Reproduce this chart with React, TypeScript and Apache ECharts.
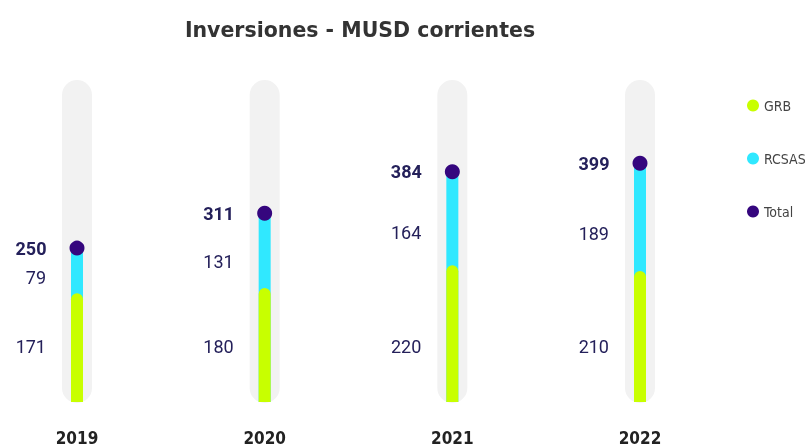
import React, { useEffect, useRef } from "react";
import * as echarts from "echarts";

const years = ["2019", "2020", "2021", "2022"];
const grb = [171, 180, 220, 210];
const rcsas = [79, 131, 164, 189];
const totals = [250, 311, 384, 399];

const Y_MIN = -20;
const Y_MAX = 545;

const GREEN = "#c8ff00";
const CYAN = "#30e8ff";
const PURPLE = "#35067e";
const GRAY = "#f2f2f2";
const NUM_COLOR = "#24205a";
const NUM_FONT = "Roboto, 'DejaVu Sans', sans-serif";
const COND_FONT = "'DejaVu Sans Condensed', 'Liberation Sans Narrow', 'DejaVu Sans', sans-serif";

export default function App() {
  const ref = useRef<HTMLDivElement>(null);
  useEffect(() => {
    if (!ref.current) return;
    const chart = echarts.init(ref.current, null, { renderer: "svg" });
    const option: any = {
      animation: false,
      title: {
        text: "Inversiones - MUSD corrientes",
        left: 355,
        top: 14,
        textAlign: "center",
        textStyle: {
          fontFamily: "'DejaVu Sans', sans-serif",
          fontWeight: "bold",
          fontSize: 20.5,
          color: "#333333",
        },
      },
      legend: {
        orient: "vertical",
        left: 742,
        top: 93,
        itemWidth: 12,
        itemHeight: 12,
        itemGap: 38,
        icon: "circle",
        data: ["GRB", "RCSAS", "Total"],
        textStyle: {
          fontFamily: COND_FONT,
          fontSize: 14,
          lineHeight: 15,
          color: "#444444",
        },
      },
      grid: { left: 77, right: 168, top: 80, bottom: 46 },
      xAxis: {
        type: "category",
        data: years,
        boundaryGap: false,
        axisLine: { show: false },
        axisTick: { show: false },
        splitLine: { show: false },
        axisLabel: {
          margin: 27,
          fontFamily: COND_FONT,
          fontWeight: "bold",
          fontSize: 17,
          color: "#222222",
        },
      },
      yAxis: {
        type: "value",
        min: Y_MIN,
        max: Y_MAX,
        show: false,
        splitLine: { show: false },
      },
      series: [
        {
          name: "bg",
          type: "custom",
          z: 1,
          silent: true,
          data: years.map((_, i) => [i, Y_MAX]),
          encode: { x: 0, y: 1 },
          renderItem: (params: any, api: any) => {
            const i = api.value(0);
            const top = api.coord([i, Y_MAX]);
            const base = api.coord([i, Y_MIN]);
            const w = 30;
            return {
              type: "rect",
              shape: { x: top[0] - w / 2, y: top[1], width: w, height: base[1] - top[1] + 1, r: 15 },
              style: { fill: GRAY },
            };
          },
        },
        {
          name: "RCSAS",
          type: "custom",
          z: 2,
          itemStyle: { color: CYAN },
          data: years.map((_, i) => [i, totals[i], rcsas[i], grb[i]]),
          encode: { x: 0, y: 1 },
          renderItem: (params: any, api: any) => {
            const i = api.value(0);
            const total = api.value(1);
            const c = api.value(2);
            const g = api.value(3);
            const top = api.coord([i, total]);
            const base = api.coord([i, Y_MIN]);
            const lab = api.coord([i, g + c * 0.35]);
            const w = 12;
            return {
              type: "group",
              children: [
                {
                  type: "rect",
                  shape: { x: top[0] - w / 2, y: top[1], width: w, height: base[1] - top[1] },
                  style: { fill: CYAN },
                },
                {
                  type: "text",
                  x: top[0] - 31,
                  y: lab[1],
                  style: {
                    text: String(c),
                    align: "right",
                    verticalAlign: "middle",
                    fill: NUM_COLOR,
                    font: `18px ${NUM_FONT}`,
                  },
                },
              ],
            };
          },
        },
        {
          name: "GRB",
          type: "custom",
          z: 3,
          itemStyle: { color: GREEN },
          data: years.map((_, i) => [i, grb[i]]),
          encode: { x: 0, y: 1 },
          renderItem: (params: any, api: any) => {
            const i = api.value(0);
            const v = api.value(1);
            const top = api.coord([i, v]);
            const base = api.coord([i, Y_MIN]);
            const w = 12;
            return {
              type: "group",
              children: [
                {
                  type: "rect",
                  shape: { x: top[0] - w / 2, y: top[1], width: w, height: base[1] - top[1], r: [6, 6, 0, 0] },
                  style: { fill: GREEN },
                },
                {
                  type: "text",
                  x: top[0] - 31,
                  y: base[1] - 56,
                  style: {
                    text: String(v),
                    align: "right",
                    verticalAlign: "middle",
                    fill: NUM_COLOR,
                    font: `18px ${NUM_FONT}`,
                  },
                },
              ],
            };
          },
        },
        {
          name: "Total",
          type: "scatter",
          z: 4,
          symbol: "circle",
          symbolSize: 15,
          itemStyle: { color: PURPLE, opacity: 1 },
          data: totals,
          label: {
            show: true,
            position: "left",
            distance: 23,
            formatter: "{c}",
            fontFamily: NUM_FONT,
            fontWeight: "bold",
            fontSize: 18,
            color: NUM_COLOR,
          },
        },
      ],
    };
    chart.setOption(option);
    return () => chart.dispose();
  }, []);
  return <div ref={ref} style={{ position: "fixed", left: 0, top: 0, width: 808, height: 448 }} />;
}
